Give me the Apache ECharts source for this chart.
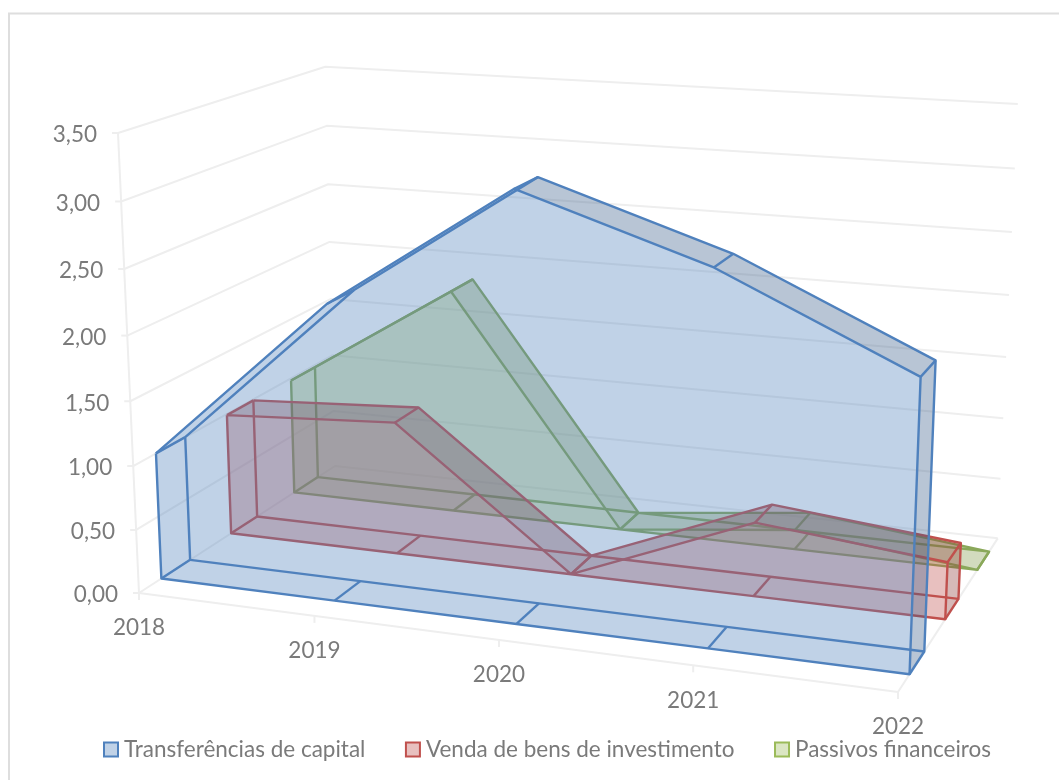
<!DOCTYPE html>
<html>
<head>
<meta charset="utf-8">
<style>
  html, body { margin: 0; padding: 0; background: #fff; }
  #chart { width: 1059px; height: 780px; }
</style>
<script src="https://cdn.jsdelivr.net/npm/echarts@6/dist/echarts.min.js"></script>
</head>
<body>
<div id="chart"></div>
<script>
const years = ['2018', '2019', '2020', '2021', '2022']
const valueTicks = [0, 0.5, 1, 1.5, 2, 2.5, 3, 3.5]
const transferencias = [1.0, 2.28, 3.22, 2.77, 2.13]
const vendaBens = [0.99, 1.07, 0, 0.58, 0.44]
const passivos = [0.98, 1.86, 0, 0.16, 0]

const CHART_W = 1059
const CHART_H = 780
const FONT = '22.5px Lato, "Open Sans", sans-serif'
const TEXT = '#7a7a7a'
const WALL = '#eeeeee'

// perspective of the box: pixel anchors of the corners, weights are the camera depth
const O = [139, 593], PX = [898, 692], PY = [118, 133], PZ = [335, 466]
const WX = 0.902, WY = 0.953, WZ = 1.16

function project(x, y, z) {
  let d = 1 + x * (WX - 1) + y * (WY - 1) + z * (WZ - 1)
  return [0, 1].map(k =>
    (O[k] + x * (WX * PX[k] - O[k]) + y * (WY * PY[k] - O[k]) + z * (WZ * PZ[k] - O[k])) / d
  )
}

// category and value go through the hidden axes, the grid fills the canvas
function unit(api, cat, val) {
  let c = api.coord([cat, val])
  return [c[0] / CHART_W, 1 - c[1] / CHART_H]
}

function line(points, color, width) {
  return {
    type: 'polyline',
    silent: true,
    shape: { points },
    style: { fill: null, stroke: color, lineWidth: width, lineJoin: 'round' }
  }
}

function poly(points, fill) {
  return { type: 'polygon', silent: true, shape: { points }, style: { fill, stroke: null } }
}

function label(text, p, align) {
  return {
    type: 'text',
    silent: true,
    style: { text, x: p[0], y: p[1], font: FONT, fill: TEXT, align, verticalAlign: 'middle' }
  }
}

function renderWalls(params, api) {
  if (params.dataIndex > 0) return
  let children = []
  valueTicks.forEach(v => {
    let y = unit(api, 0, v)[1]
    children.push(line([project(0, y, 0), project(0, y, 1), project(1, y, 1)], WALL, 2))
    let p = project(0, y, 0)
    children.push(line([p, [p[0] - 6, p[1]]], WALL, 2))
    children.push(label(v.toFixed(2).replace('.', ','), [p[0] - 21, p[1] + 2], 'right'))
  })
  children.push(line([project(0, 0, 0), project(0, 1, 0)], WALL, 2))
  children.push(line([project(0, 0, 0), project(1, 0, 0), project(1, 0, 1)], WALL, 2))
  years.forEach((name, i) => {
    let p = project(unit(api, i, 0)[0], 0, 0)
    children.push(line([p, [p[0], p[1] + 7]], WALL, 2))
    children.push(label(name, [p[0], p[1] + 35], 'center'))
  })
  return { type: 'group', children }
}

// true when the top strip of a segment turns its upper side to the viewer
function facesViewer(a, b, c) {
  return (b[0] - a[0]) * (c[1] - a[1]) - (b[1] - a[1]) * (c[0] - a[0]) < 0
}

function prism(values, zFront, zBack, stroke, fill, shade) {
  return function (params, api) {
    if (params.dataIndex > 0) return
    let tops = values.map((v, i) => unit(api, i, v))
    let base = values.map((v, i) => unit(api, i, 0))
    let n = values.length
    let topF = tops.map(u => project(u[0], u[1], zFront))
    let topB = tops.map(u => project(u[0], u[1], zBack))
    let botF = base.map(u => project(u[0], u[1], zFront))
    let botB = base.map(u => project(u[0], u[1], zBack))
    let children = []
    for (let i = 0; i < n - 1; i++) {
      if (facesViewer(topF[i], topF[i + 1], topB[i + 1])) {
        children.push(poly([topF[i], topF[i + 1], topB[i + 1], topB[i]], shade))
      }
    }
    children.push(poly([botF[n - 1], botB[n - 1], topB[n - 1], topF[n - 1]], shade))
    children.push(poly(topF.concat(botF.slice().reverse()), fill))
    let w = 2.4
    children.push(line(topB.concat(botB.slice().reverse(), [topB[0]]), stroke, w))
    for (let i = 0; i < n; i++) {
      children.push(line([topF[i], topB[i]], stroke, w))
      children.push(line([botF[i], botB[i]], stroke, w))
    }
    children.push(line(topF.concat(botF.slice().reverse(), [topF[0]]), stroke, w))
    return { type: 'group', children }
  }
}

function areaSeries(name, values, zFront, zBack, stroke, fill, shade) {
  return {
    name,
    type: 'custom',
    coordinateSystem: 'cartesian2d',
    clip: false,
    silent: true,
    itemStyle: { color: fill, borderColor: stroke },
    data: values.map((v, i) => [i, v]),
    renderItem: prism(values, zFront, zBack, stroke, fill, shade)
  }
}

let myChart = echarts.init(document.getElementById('chart'))
let option = {
  animation: false,
  backgroundColor: '#fff',
  grid: { left: 0, top: 0, width: CHART_W, height: CHART_H },
  xAxis: { type: 'category', data: years, boundaryGap: false, show: false },
  yAxis: { type: 'value', min: 0, max: 3.5, interval: 0.5, show: false },
  graphic: [
    {
      type: 'polyline',
      silent: true,
      shape: { points: [[9, 780], [9, 13.5], [1059, 13.5]] },
      style: { fill: null, stroke: '#dedede', lineWidth: 2 }
    }
  ],
  legend: {
    left: 98,
    top: 733,
    icon: 'rect',
    itemWidth: 14,
    itemHeight: 14,
    itemGap: 39.5,
    textStyle: { color: TEXT, fontSize: 22.5, fontFamily: 'Lato, "Open Sans", sans-serif', padding: [0, 0, 0, 1] },
    data: [
      { name: 'Transferências de capital', itemStyle: { color: 'rgba(79,129,189,0.36)', borderColor: '#4f81bd', borderWidth: 2 } },
      { name: 'Venda de bens de investimento', itemStyle: { color: 'rgba(192,80,77,0.36)', borderColor: '#c0504d', borderWidth: 2 } },
      { name: 'Passivos financeiros', itemStyle: { color: 'rgba(155,187,89,0.36)', borderColor: '#9bbb59', borderWidth: 2 } }
    ]
  },
  series: [
    {
      name: 'walls',
      type: 'custom',
      coordinateSystem: 'cartesian2d',
      clip: false,
      silent: true,
      data: [[0, 0]],
      renderItem: renderWalls
    },
    areaSeries('Passivos financeiros', passivos, 0.7667, 0.9, '#8aa85a', 'rgba(155,187,89,0.36)', 'rgba(130,155,75,0.36)'),
    areaSeries('Venda de bens de investimento', vendaBens, 0.4333, 0.5667, '#c0504d', 'rgba(192,80,77,0.36)', 'rgba(140,60,58,0.36)'),
    areaSeries('Transferências de capital', transferencias, 0.1, 0.2333, '#4f81bd', 'rgba(79,129,189,0.36)', 'rgba(58,94,138,0.36)')
  ]
}
myChart.setOption(option)
</script>
</body>
</html>
